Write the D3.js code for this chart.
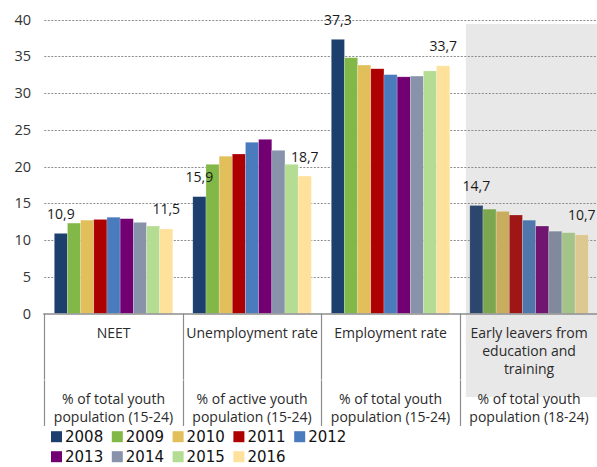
<!DOCTYPE html>
<html>
<head>
<meta charset="utf-8">
<script src="https://cdn.jsdelivr.net/npm/d3@7"></script>
<style>
  body { margin: 0; background: #ffffff; }
  svg { display: block; font-family: "Open Sans", sans-serif; }
</style>
</head>
<body>
<div id="chart"></div>
<script>
// ---- data ----
var years = ["2008", "2009", "2010", "2011", "2012", "2013", "2014", "2015", "2016"];
var categories = ["neet", "unemployment", "employment", "early"];
var categoryTitles = [["NEET"], ["Unemployment rate"], ["Employment rate"],
	["Early leavers from", "education and", "training"]];
var categoryUnits = [["% of total youth", "population (15-24)"],
	["% of active youth", "population (15-24)"],
	["% of total youth", "population (15-24)"],
	["% of total youth", "population (18-24)"]];

var neet = [10.9, 12.3, 12.7, 12.8, 13.1, 12.9, 12.4, 11.9, 11.5];
var unemployment = [15.9, 20.3, 21.4, 21.7, 23.3, 23.7, 22.2, 20.3, 18.7];
var employment = [37.3, 34.8, 33.8, 33.3, 32.5, 32.2, 32.3, 33.0, 33.7];
var earlyLeavers = [14.7, 14.2, 13.9, 13.4, 12.7, 11.9, 11.2, 11.0, 10.7];
var series = [neet, unemployment, employment, earlyLeavers];

var yTicks = [0, 5, 10, 15, 20, 25, 30, 35, 40];
var colors = ["#1c3f6e", "#82b847", "#e1bf5a", "#ad0000", "#4a7bbd",
	"#720072", "#8893ab", "#b4dc92", "#fee29c"];

// ---- layout ----
var width = 597, height = 467;
var svg = d3.select("#chart").append("svg")
	.attr("width", width)
	.attr("height", height);

var x0 = d3.scaleBand()
	.domain(categories)
	.range([44.3, 598.3]);
// bars fill the middle of each category, ~10px free on each side
var x1 = d3.scaleBand()
	.domain(years)
	.range([0, x0.bandwidth()])
	.paddingOuter(0.76);
var y = d3.scaleLinear()
	.domain([0, 40])
	.range([313.5, 19.5]);

// grey box behind the last category
var last = categories[categories.length - 1];
svg.append("rect")
	.attr("x", x0(last) + 6)
	.attr("y", y(40) + 4.5)
	.attr("width", width - x0(last) - 6)
	.attr("height", 397 - y(40) - 4.5)
	.attr("fill", "#e8e8e8");

// dotted grid lines
svg.append("g")
	.attr("class", "grid_lines")
	.selectAll("line")
	.data(yTicks.filter(function(d) { return d > 0; }))
	.enter()
	.append("line")
	.attr("x1", 44.3)
	.attr("x2", width)
	.attr("y1", function(d) { return Math.round(y(d)) + 0.5; })
	.attr("y2", function(d) { return Math.round(y(d)) + 0.5; })
	.attr("stroke", "#8c8c8c")
	.attr("stroke-width", 1)
	.attr("stroke-dasharray", "2,1.5");

// y axis labels, no axis line
var yAxis = svg.append("g")
	.attr("class", "y_axis")
	.attr("transform", "translate(44,0)")
	.call(d3.axisLeft(y).tickValues(yTicks).tickSize(0).tickPadding(13));
yAxis.select(".domain").remove();
yAxis.selectAll("text")
	.attr("font-size", "14.5px")
	.attr("font-family", "Open Sans, sans-serif")
	.attr("fill", "#333333");

// bars; the shaded group uses slightly muted colours
var groups = svg.append("g")
	.attr("class", "bars")
	.selectAll("g")
	.data(categories)
	.enter()
	.append("g")
	.attr("transform", function(d) { return "translate(" + x0(d) + ",0)"; });

groups.selectAll("rect")
	.data(function(d, i) {
		return series[i].map(function(v, j) {
			return {year: years[j], value: v, color: colors[j], muted: i == 3};
		});
	})
	.enter()
	.append("rect")
	.attr("x", function(d) { return x1(d.year); })
	.attr("y", function(d) { return y(d.value); })
	.attr("width", x1.bandwidth())
	.attr("height", function(d) { return y(0) - y(d.value); })
	.attr("fill", function(d) {
		return d.muted ? d3.interpolateRgb(d.color, "#676767")(0.21) : d.color;
	})
	.attr("stroke", "#ffffff")
	.attr("stroke-opacity", 0.35)
	.attr("stroke-width", 0.6);

// value labels on the first and last year of every group
groups.selectAll("text.value")
	.data(function(d, i) {
		var s = series[i];
		return [{year: years[0], value: s[0]}, {year: years[s.length - 1], value: s[s.length - 1]}];
	})
	.enter()
	.append("text")
	.attr("class", "value")
	.attr("x", function(d) { return x1(d.year) + x1.bandwidth() / 2; })
	.attr("y", function(d) { return y(d.value) - 14.5; })
	.attr("text-anchor", "middle")
	.attr("font-size", "14px")
	.attr("fill", "#1a1a1a")
	.text(function(d) { return d3.format(".1f")(d.value).replace(".", ","); });

// x axis line and category separators
var axisColor = "#8c8c8c";
svg.append("line")
	.attr("x1", 43.3).attr("x2", width)
	.attr("y1", y(0) + 0.5).attr("y2", y(0) + 0.5)
	.attr("stroke", axisColor)
	.attr("stroke-width", 1.5);

var sep = svg.append("g").attr("class", "separators");
categories.forEach(function(c) {
	var sx = Math.round(x0(c)) + 0.5;
	sep.append("line")
		.attr("x1", sx).attr("x2", sx)
		.attr("y1", y(0)).attr("y2", 379.7)
		.attr("stroke", axisColor).attr("stroke-width", 1.2);
	sep.append("line")
		.attr("x1", sx).attr("x2", sx)
		.attr("y1", 380.3).attr("y2", 426)
		.attr("stroke", axisColor).attr("stroke-width", 1.2);
});

// category titles and units
var labels = svg.append("g").attr("class", "x_labels");
categories.forEach(function(c, i) {
	var cx = x0(c) + x0.bandwidth() / 2;
	categoryTitles[i].forEach(function(line, k) {
		labels.append("text")
			.attr("x", cx)
			.attr("y", 338 + k * 18)
			.attr("text-anchor", "middle")
			.attr("font-size", "14px")
			.attr("fill", "#2b2b2b")
			.text(line);
	});
	categoryUnits[i].forEach(function(line, k) {
		labels.append("text")
			.attr("x", cx)
			.attr("y", 403.5 + k * 18)
			.attr("text-anchor", "middle")
			.attr("font-size", "14px")
			.attr("fill", "#2b2b2b")
			.text(line);
	});
});

// legend, two rows of five / four
var legend = svg.append("g").attr("class", "legend");
years.forEach(function(yr, i) {
	var col = i % 5, row = Math.floor(i / 5);
	var lx = 51 + col * 60.8, ly = 436.7 + row * 20;
	legend.append("rect")
		.attr("x", lx).attr("y", ly - 5.5)
		.attr("width", 11).attr("height", 11)
		.attr("fill", colors[i]);
	legend.append("text")
		.attr("x", lx + 14).attr("y", ly + 5.5)
		.attr("font-family", "DejaVu Sans, sans-serif")
		.attr("font-size", "15px")
		.attr("fill", "#111111")
		.text(yr);
});
</script>
</body>
</html>
